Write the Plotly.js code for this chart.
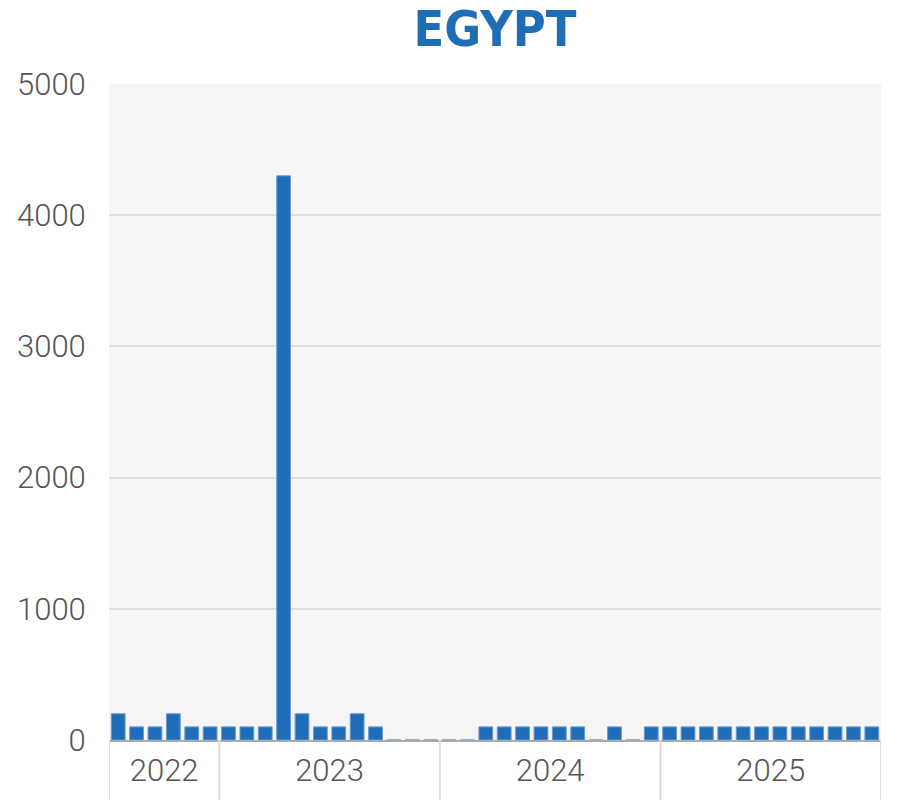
<!DOCTYPE html>
<html>
<head>
<meta charset="utf-8">
<script src="https://cdn.plot.ly/plotly-3.0.1.min.js"></script>
<style>html,body{margin:0;padding:0;background:#fff;}#chart{width:900px;height:800px;}</style>
</head>
<body>
<div id="chart"></div>
<script>
const months = [
  "2022-07","2022-08","2022-09","2022-10","2022-11","2022-12",
  "2023-01","2023-02","2023-03","2023-04","2023-05","2023-06","2023-07","2023-08","2023-09","2023-10","2023-11","2023-12",
  "2024-01","2024-02","2024-03","2024-04","2024-05","2024-06","2024-07","2024-08","2024-09","2024-10","2024-11","2024-12",
  "2025-01","2025-02","2025-03","2025-04","2025-05","2025-06","2025-07","2025-08","2025-09","2025-10","2025-11","2025-12"
];
const values = [
  200,100,100,200,100,100,
  100,100,100,4300,200,100,100,200,100,0,0,0,
  0,0,100,100,100,100,100,100,0,100,0,100,
  100,100,100,100,100,100,100,100,100,100,100,100
];
const years = ["2022","2023","2024","2025"];
const yTicks = [0,1000,2000,3000,4000,5000];

// month positions on a linear axis (index of each month)
const xIdx = months.map((m, i) => i);
const yearFirst = years.map(y => months.findIndex(m => m.startsWith(y)));
const yearLast = years.map(y => months.length - 1 - months.slice().reverse().findIndex(m => m.startsWith(y)));
const yearCenters = years.map((y, k) => (yearFirst[k] + yearLast[k]) / 2);
const boundaries = yearFirst.map(i => i - 0.5).concat([months.length - 0.5]);

const trace = {
  type: 'bar',
  x: xIdx,
  y: values,
  customdata: months,
  textposition: 'none',
  marker: {color: '#1f6db8', line: {color: '#6a9bd3', width: 1}},
  hovertemplate: '%{customdata}: %{y}<extra></extra>'
};

const shapes = boundaries.map(b => ({
  type: 'line', xref: 'x', yref: 'paper',
  x0: b, x1: b, y0: 0, y1: -0.095,
  line: {color: '#dddddd', width: 2}
}));

const tickFont = {family: 'Roboto', size: 31, color: '#555555', weight: 300};

const layout = {
  width: 900, height: 800,
  margin: {l: 109, r: 19, t: 84, b: 60},
  paper_bgcolor: '#ffffff',
  plot_bgcolor: '#f5f5f5',
  showlegend: false,
  bargap: 0.25,
  title: {
    text: 'EGYPT',
    font: {family: 'DejaVu Sans Condensed, DejaVu Sans', size: 50, color: '#1f6db5', weight: 'bold'},
    xref: 'paper', x: 0.5, xanchor: 'center', y: 0.965, yanchor: 'middle'
  },
  xaxis: {
    range: [-0.5, months.length - 0.5],
    tickmode: 'array',
    tickvals: yearCenters,
    ticktext: years,
    ticks: '',
    showgrid: false,
    zeroline: false,
    showline: true, linecolor: '#aaaaaa', linewidth: 2,
    ticklabelstandoff: 2,
    tickfont: tickFont,
    fixedrange: true
  },
  yaxis: {
    range: [0, 5000],
    tickvals: yTicks,
    ticks: 'outside', ticklen: 16, tickcolor: 'rgba(0,0,0,0)',
    showgrid: true, gridcolor: '#dedede', gridwidth: 2,
    zeroline: false,
    tickfont: tickFont,
    fixedrange: true
  },
  shapes: shapes
};

Plotly.newPlot('chart', [trace], layout, {displayModeBar: false, staticPlot: true});
</script>
</body>
</html>
